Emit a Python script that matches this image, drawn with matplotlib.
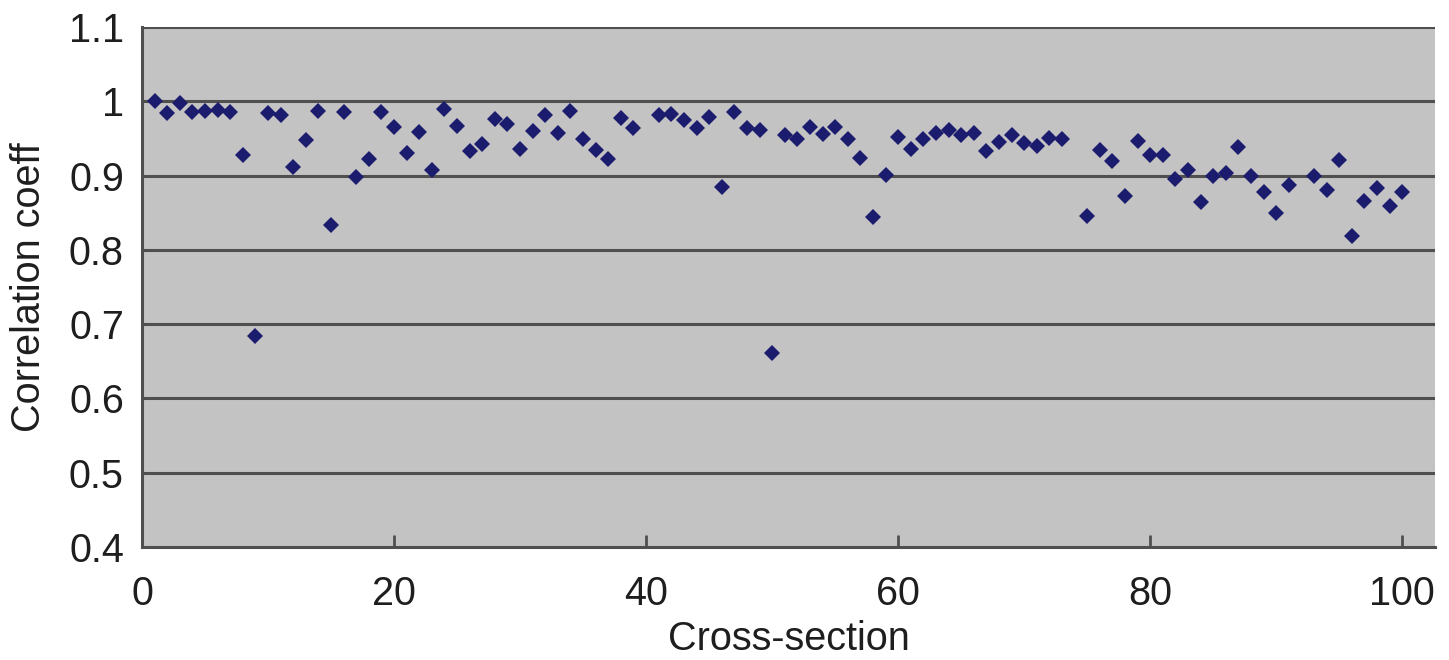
import matplotlib
matplotlib.use("Agg")
import matplotlib.pyplot as plt
import numpy as np

# Cross-section index and correlation coefficient per section
sections = [1, 2, 3, 4, 5, 6, 7, 8, 9, 10,
            11, 12, 13, 14, 15, 16, 17, 18, 19, 20,
            21, 22, 23, 24, 25, 26, 27, 28, 29, 30,
            31, 32, 33, 34, 35, 36, 37, 38, 39,
            41, 42, 43, 44, 45, 46, 47, 48, 49, 50,
            51, 52, 53, 54, 55, 56, 57, 58, 59, 60,
            61, 62, 63, 64, 65, 66, 67, 68, 69, 70,
            71, 72, 73, 75, 76, 77, 78, 79, 80,
            81, 82, 83, 84, 85, 86, 87, 88, 89, 90,
            91, 93, 94, 95, 96, 97, 98, 99, 100]
corr = [1.000, 0.984, 0.998, 0.986, 0.987, 0.988, 0.986, 0.928, 0.684, 0.984,
        0.982, 0.911, 0.948, 0.987, 0.833, 0.986, 0.898, 0.922, 0.985, 0.966,
        0.931, 0.959, 0.908, 0.989, 0.967, 0.933, 0.942, 0.976, 0.969, 0.936,
        0.960, 0.982, 0.957, 0.987, 0.949, 0.934, 0.922, 0.978, 0.964,
        0.982, 0.983, 0.975, 0.964, 0.979, 0.884, 0.986, 0.964, 0.962, 0.661,
        0.955, 0.949, 0.966, 0.956, 0.966, 0.949, 0.923, 0.844, 0.901, 0.952,
        0.936, 0.949, 0.957, 0.962, 0.955, 0.957, 0.933, 0.945, 0.955, 0.944,
        0.940, 0.950, 0.949, 0.845, 0.934, 0.919, 0.873, 0.947, 0.928,
        0.928, 0.895, 0.908, 0.865, 0.899, 0.904, 0.938, 0.899, 0.878, 0.849,
        0.887, 0.899, 0.881, 0.921, 0.818, 0.866, 0.883, 0.859, 0.878]

x_ticks = [0, 20, 40, 60, 80, 100]
y_ticks = [0.4, 0.5, 0.6, 0.7, 0.8, 0.9, 1.0, 1.1]
y_tick_labels = ["0.4", "0.5", "0.6", "0.7", "0.8", "0.9", "1", "1.1"]

plt.rcParams["font.family"] = ["Liberation Sans", "DejaVu Sans"]

fig = plt.figure(figsize=(14.49, 6.6), dpi=100)
ax = fig.add_axes([142 / 1449, 1 - 547 / 660, (1435 - 142) / 1449, (547 - 27) / 660])
ax.set_facecolor("#c3c3c3")

ax.set_xlim(0, 102.6)
ax.set_ylim(0.4, 1.1)

# horizontal gridlines
for yv in y_ticks[1:]:
    ax.axhline(yv, color="#4f4f4f", linewidth=2.2, zorder=1)

ax.plot(sections, corr, linestyle="none", marker="D", markersize=8.3,
        color="#1c1c6e", markeredgewidth=0, zorder=3)

ax.set_xticks(x_ticks)
ax.set_yticks(y_ticks)
ax.set_yticklabels(y_tick_labels)
ax.tick_params(axis="x", direction="in", length=9, width=2, color="#4f4f4f",
               labelsize=28.5, labelcolor="#1e1e1e", pad=20)
ax.tick_params(axis="y", length=0, labelsize=28.5, labelcolor="#1e1e1e", pad=13)

for side in ("top", "right"):
    ax.spines[side].set_visible(False)
for side in ("left", "bottom"):
    ax.spines[side].set_color("#4f4f4f")
    ax.spines[side].set_linewidth(2.2)

ax.set_xlabel("Cross-section", fontsize=28.5, color="#1e1e1e", labelpad=5)
ax.set_ylabel("Correlation coeff", fontsize=28.5, color="#1e1e1e", labelpad=15)

fig.savefig("out.png", dpi=100, facecolor="white")
